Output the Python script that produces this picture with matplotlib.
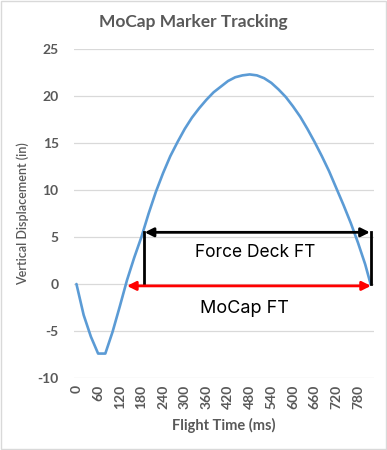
import matplotlib.pyplot as plt
from matplotlib.patches import Rectangle

# Marker trace (ms, inches)
time_ms = [0, 20, 40, 60, 80, 100, 120, 140, 160, 180, 200, 220, 240, 260,
           280, 300, 320, 340, 360, 380, 400, 420, 440, 460, 480, 500, 520,
           540, 560, 580, 600, 620, 640, 660, 680, 700, 720, 740, 760, 780,
           800, 815]
displacement = [0, -3.3, -5.6, -7.4, -7.4, -5.1, -2.4, 0.4, 2.8, 5.0, 7.5,
                9.8, 11.8, 13.6, 15.1, 16.5, 17.7, 18.7, 19.6, 20.4, 21.0,
                21.6, 22.0, 22.2, 22.3, 22.2, 21.9, 21.4, 20.7, 19.9, 18.9,
                17.8, 16.5, 15.1, 13.6, 12.0, 10.2, 8.4, 6.5, 4.4, 2.1, 0]

x_ticks = list(range(0, 781, 60))
y_ticks = [-10, -5, 0, 5, 10, 15, 20, 25]

# Flight time annotations
force_deck_start, force_deck_end, force_deck_level = 187, 816, 5.5
mocap_start, mocap_end, mocap_level = 140, 816, -0.2

gray = "#595959"
font = "Lato"

fig = plt.figure(figsize=(3.87, 4.5), dpi=100)
ax = fig.add_axes([0.191, 0.16, 0.775, 0.731])

ax.plot(time_ms, displacement, color="#5B9BD5", linewidth=1.9,
        solid_capstyle="round")

ax.set_xlim(-7, 824)
ax.set_ylim(-10, 25)
ax.set_xticks(x_ticks)
ax.set_yticks(y_ticks)
ax.set_xticklabels([str(t) for t in x_ticks], rotation=90, color=gray,
                   fontsize=10, fontweight="bold", family=font)
ax.set_yticklabels([str(v) for v in y_ticks], color=gray, fontsize=10,
                   fontweight="bold", family=font)
ax.tick_params(length=0)
ax.tick_params(axis="x", pad=5)
ax.tick_params(axis="y", pad=11)

for s in ax.spines.values():
    s.set_visible(False)
ax.grid(axis="y", color="#d9d9d9", linewidth=0.9)
ax.set_axisbelow(True)

fig.text(0.5, 0.951, "MoCap Marker Tracking", color=gray, fontsize=12.5,
         fontweight="bold", family=font, ha="center", va="center")
ax.set_ylabel("Vertical Displacement (in)", color=gray, fontsize=9,
              fontweight="semibold", family=font, labelpad=6)
ax.set_xlabel("Flight Time (ms)", color=gray, fontsize=10.5,
              fontweight="bold", family=font, labelpad=6)

# Force deck bracket
ax.plot([force_deck_start, force_deck_start], [0, force_deck_level],
        color="black", linewidth=2)
ax.plot([force_deck_end, force_deck_end], [0, force_deck_level],
        color="black", linewidth=2)
ax.annotate("", xy=(force_deck_end - 3, force_deck_level),
            xytext=(force_deck_start + 2, force_deck_level),
            arrowprops=dict(arrowstyle="<|-|>", color="black", lw=2,
                            mutation_scale=13, shrinkA=0, shrinkB=0))
ax.text((force_deck_start + force_deck_end) / 2 - 5, 3.3, "Force Deck FT",
        ha="center", va="center", fontsize=12.5, family="Inter")

# MoCap bracket
ax.annotate("", xy=(mocap_end, mocap_level), xytext=(mocap_start, mocap_level),
            arrowprops=dict(arrowstyle="<|-|>", color="red", lw=2,
                            mutation_scale=13, shrinkA=0, shrinkB=0))
ax.text(465, -2.6, "MoCap FT", ha="center", va="center", fontsize=13,
        family="Inter")

fig.patches.append(Rectangle((0.002, 0.002), 0.996, 0.996,
                             transform=fig.transFigure, fill=False,
                             edgecolor="#d9d9d9", linewidth=1))

fig.savefig("out.png", dpi=100)
